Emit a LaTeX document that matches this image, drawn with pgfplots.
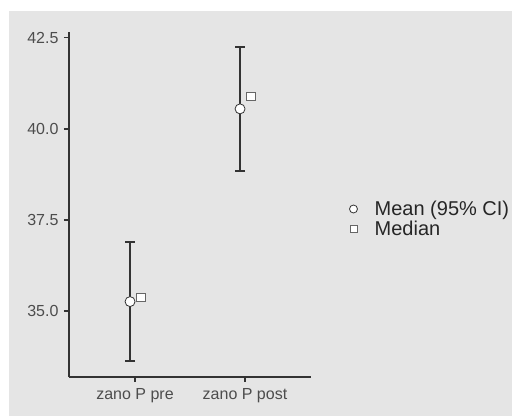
\documentclass[border=0pt]{standalone}
\usepackage{pgfplots}
\pgfplotsset{compat=1.18}
\usepackage{fontspec}
\setmainfont{Liberation Sans}
\definecolor{bg}{HTML}{E5E5E5}
\definecolor{axc}{HTML}{333333}
\definecolor{tkc}{HTML}{4D4D4D}
\begin{document}
\begin{tikzpicture}[x=1pt,y=1pt]
\useasboundingbox (0,0) rectangle (512,416);
\fill[white] (0,0) rectangle (512,416);
\fill[bg] (9,0) rectangle (512,405);
\begin{axis}[
  at={(69pt,39pt)}, anchor=south west,
  scale only axis, width=242pt, height=345pt,
  xmin=0.4, xmax=2.6, ymin=33.19, ymax=42.66,
  axis lines*=left,
  axis line style={color=axc, line width=1.3pt},
  xtick={1,2}, xticklabels={zano P pre, zano P post},
  ytick={35,37.5,40,42.5},
  yticklabel style={xshift=-2pt, /pgf/number format/.cd, fixed, fixed zerofill, precision=1},
  /pgf/number format/assume math mode=true,
  tick style={color=axc, line width=1.3pt},
  tick align=outside, major tick length=5pt,
  ticklabel style={font=\fontsize{16}{19}\selectfont, color=tkc},
  xticklabel style={yshift=-3pt},
  legend image code/.code={\draw[mark repeat=1,#1,every mark/.append style={scale=0.8}] plot coordinates {(0pt,0pt)};
    \path (-4pt,0pt) (19pt,0pt);},
  legend style={draw=none, fill=none, at={(1.145,0.458)}, anchor=west,
    font=\fontsize{20}{23}\selectfont, text=black!85, row sep=0pt},
  legend cell align=left,
]
\addplot[only marks, mark=*, mark size=5pt, mark options={fill=white, draw=axc, line width=0.8pt},
  error bars/.cd, y dir=both, y explicit,
  error bar style={color=axc, line width=2pt},
  error mark options={color=axc, line width=2pt, mark size=5pt, rotate=90}]
  coordinates {
    (0.955,35.26) +- (0,1.64)
    (1.955,40.55) +- (0,1.70)
  };
\addlegendentry{Mean (95\% CI)}
\addplot[only marks, mark=square*, mark size=4.3pt, mark options={fill=white, draw=black!60, line width=0.8pt}]
  coordinates {
    (1.055,35.38)
    (2.055,40.89)
  };
\addlegendentry{Median}
\end{axis}
\end{tikzpicture}
\end{document}
